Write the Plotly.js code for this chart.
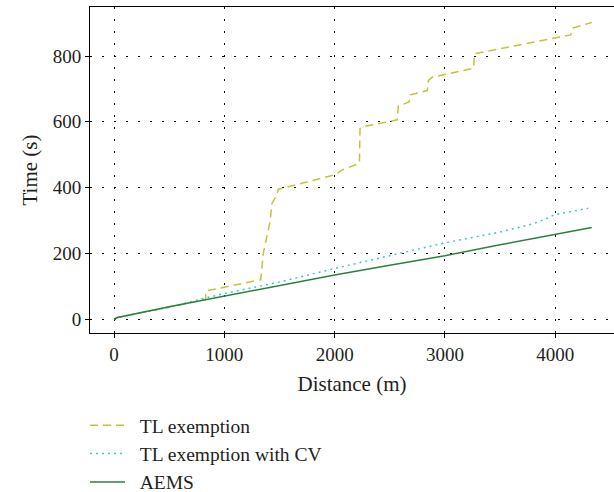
<!DOCTYPE html>
<html>
<head>
<meta charset="utf-8">
<script src="https://cdn.plot.ly/plotly-3.0.1.min.js"></script>
<style>html,body{margin:0;padding:0;background:#fff;}#chart{width:614px;height:492px;}</style>
</head>
<body>
<div id="chart"></div>
<script>
// Data
const seriesNames = ["TL exemption", "TL exemption with CV", "AEMS"];

const tlDist = [0, 30, 500, 828, 835, 1308, 1330, 1354, 1390, 1414, 1432, 1469, 1490, 2004, 2010, 2064, 2225, 2230, 2260, 2568, 2578, 2675, 2684, 2840, 2850, 2880, 3260, 3268, 4140, 4160, 4331];
const tlTime = [0, 5, 37, 60, 86, 117, 120, 201, 256, 296, 352, 374, 395, 438, 440, 453, 474, 580, 585, 606, 648, 660, 682, 695, 725, 735, 763, 807, 864, 885, 902];

const cvDist = [0, 30, 500, 650, 800, 1000, 1500, 2000, 2500, 3000, 3500, 3800, 3900, 4000, 4300];
const cvTime = [0, 5, 36, 50, 62, 78, 113, 154, 192, 232, 265, 290, 303, 318, 337];

const aemsDist = [0, 30, 500, 1000, 1686, 2000, 2500, 3000, 3500, 4000, 4331];
const aemsTime = [0, 5, 38, 70, 116, 134, 164, 193, 226, 258, 279];

const xTicks = [0, 1000, 2000, 3000, 4000];
const yTicks = [0, 200, 400, 600, 800];

const FONT = "Liberation Serif, Times New Roman, serif";
const INK = "#231f20";
const PAD = "\u00a0\u00a0";

const traces = [
  {x: tlDist, y: tlTime, name: PAD + seriesNames[0], mode: "lines",
   line: {color: "#c4c23a", width: 1.5, dash: "8px,5px"}},
  {x: cvDist, y: cvTime, name: PAD + seriesNames[1], mode: "lines",
   line: {color: "#3ec6c6", width: 1.5, dash: "2px,4px"}},
  {x: aemsDist, y: aemsTime, name: PAD + seriesNames[2], mode: "lines",
   line: {color: "#2b8040", width: 1.5}}
];

const layout = {
  width: 614, height: 492,
  margin: {l: 90, r: 0, t: 7, b: 159, autoexpand: false},
  paper_bgcolor: "#fff", plot_bgcolor: "#fff",
  font: {family: FONT, size: 19, color: INK},
  showlegend: true,
  legend: {x: -5 / 524, xanchor: "left",
           y: -(406 - 333) / 326, yanchor: "top", itemwidth: 35,
           font: {family: FONT, size: 19.5, color: INK}, bgcolor: "rgba(0,0,0,0)",
           tracegroupgap: 0},
  xaxis: {
    range: [-218, 4533], tickvals: xTicks, ticktext: xTicks.map(String),
    showgrid: true, gridcolor: "#000", gridwidth: 1, griddash: "2px,10px",
    zeroline: false, showline: true, linecolor: "#000", linewidth: 1, mirror: true,
    ticks: "outside", ticklen: 4, tickcolor: "#000", automargin: false,
    title: {text: "Distance (m)", font: {family: FONT, size: 21, color: INK}, standoff: 12}
  },
  yaxis: {
    range: [-42, 949], tickvals: yTicks, ticktext: yTicks.map(String),
    showgrid: true, gridcolor: "#000", gridwidth: 1, griddash: "2px,10px",
    zeroline: false, showline: true, linecolor: "#000", linewidth: 1, mirror: false,
    ticks: "outside", ticklen: 4, tickcolor: "#000", automargin: false,
    title: {text: "Time (s)", font: {family: FONT, size: 21, color: INK}, standoff: 9}
  }
};

Plotly.newPlot("chart", traces, layout, {staticPlot: true, displayModeBar: false});
</script>
</body>
</html>
